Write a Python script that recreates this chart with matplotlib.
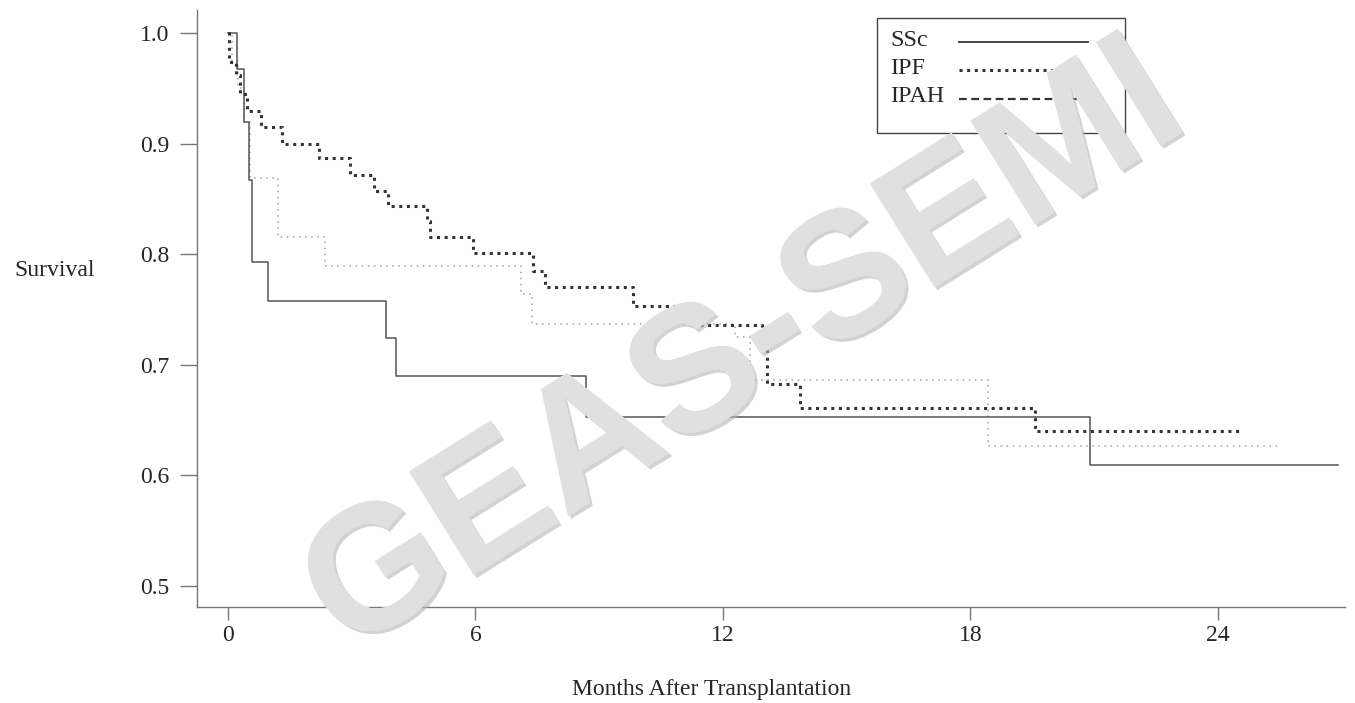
import matplotlib
matplotlib.use("Agg")
import matplotlib.pyplot as plt
from matplotlib.patches import Rectangle
import matplotlib.patheffects as pe

# ---- data (months, survival) ----
ssc_t = [0, 0.22, 0.39, 0.50, 0.58, 0.97, 3.83, 4.07, 8.68, 20.9, 26.9]
ssc_s = [1.0, 0.968, 0.920, 0.867, 0.793, 0.758, 0.724, 0.690, 0.653, 0.609, 0.609]

ipf_t = [0, 0.02, 0.20, 0.30, 0.45, 0.80, 1.31, 2.21, 2.96, 3.54, 3.88, 4.82, 4.90,
         5.94, 7.39, 7.68, 9.82, 11.2, 12.95, 13.07, 13.87, 19.56, 24.6]
ipf_s = [1.0, 0.974, 0.962, 0.945, 0.930, 0.915, 0.900, 0.887, 0.872, 0.857, 0.844,
         0.830, 0.816, 0.801, 0.785, 0.770, 0.753, 0.736, 0.718, 0.683, 0.661, 0.640, 0.640]

ipah_t = [0, 0.10, 0.25, 0.40, 0.53, 1.21, 2.35, 7.10, 7.37, 12.29, 12.65, 18.42, 25.43]
ipah_s = [1.0, 0.975, 0.950, 0.920, 0.869, 0.816, 0.789, 0.764, 0.737, 0.725, 0.686, 0.627, 0.627]

legend_labels = ["SSc", "IPF", "IPAH"]
xticks = [0, 6, 12, 18, 24]
yticks = [0.5, 0.6, 0.7, 0.8, 0.9, 1.0]

serif = ["Liberation Serif", "DejaVu Serif"]
TXT = "#262626"
AX = "#777777"

W, H = 1355, 703
AXL, AXR, AXT, AXB = 197, 1345, 10, 607

fig = plt.figure(figsize=(W / 100, H / 100), dpi=100)
ax = fig.add_axes([AXL / W, 1 - AXB / H, (AXR - AXL) / W, (AXB - AXT) / H])


def axc(px, py):
    """pixel position -> axes fraction (for layout of the legend box)."""
    return (px - AXL) / (AXR - AXL), (AXB - py) / (AXB - AXT)


styles = {
    "SSc": dict(color="#555555", lw=1.1, linestyle="-"),
    "IPF": dict(color="#333333", lw=2.2, linestyle=(0, (1, 1.5))),
    "IPAH": dict(color="#a0a0a0", lw=1.1, linestyle=(0, (1, 3))),
}

ax.step(ipah_t, ipah_s, where="post", **styles["IPAH"])
ax.step(ssc_t, ssc_s, where="post", **styles["SSc"])
ax.step(ipf_t, ipf_s, where="post", **styles["IPF"])

ax.set_xlim(-0.75, 27.08)
ax.set_ylim(0.481, 1.021)
ax.set_xticks(xticks)
ax.set_xticklabels([str(v) for v in xticks])
ax.set_yticks(yticks)
ax.set_yticklabels([f"{v:.1f}" for v in yticks])

for s in ["top", "right"]:
    ax.spines[s].set_visible(False)
for s in ["left", "bottom"]:
    ax.spines[s].set_color(AX)
    ax.spines[s].set_linewidth(1.0)

ax.tick_params(axis="y", length=12, width=1, color=AX, pad=8,
               labelsize=17, labelcolor=TXT)
ax.tick_params(axis="x", length=9, width=1, color=AX, pad=4,
               labelsize=17, labelcolor=TXT)
for lab in ax.get_xticklabels() + ax.get_yticklabels():
    lab.set_family(serif)

ax.set_ylabel("Survival", rotation=0, fontsize=17, family=serif, color=TXT,
              ha="center", va="center")
ax.yaxis.set_label_coords(*axc(55, 270))
ax.set_xlabel("Months After Transplantation", fontsize=17, family=serif, color=TXT,
              ha="center", va="center")
ax.xaxis.set_label_coords(*axc(712, 690))

# ---- legend (text left, line sample right, as in the reference) ----
x0, y0 = axc(877, 133)
x1, y1 = axc(1125, 18)
ax.add_patch(Rectangle((x0, y0), x1 - x0, y1 - y0, transform=ax.transAxes,
                       fill=True, facecolor="white", edgecolor="#444444",
                       lw=1.0, zorder=5))
leg_style = {
    "SSc": dict(color="#333333", lw=1.3, linestyle="-"),
    "IPF": dict(color="#333333", lw=2.2, linestyle=(0, (1, 1.5))),
    "IPAH": dict(color="#333333", lw=1.6, linestyle=(0, (3.5, 2))),
}
for lab, py in zip(legend_labels, [40, 68, 97]):
    tx, ty = axc(890, py)
    ax.text(tx, ty, lab, transform=ax.transAxes, ha="left", va="center",
            fontsize=17.5, family=serif, color=TXT, zorder=6)
    lx0, ly = axc(959, py + 2)
    lx1, _ = axc(1088, py + 2)
    ax.plot([lx0, lx1], [ly, ly], transform=ax.transAxes, zorder=6,
            **leg_style[lab])

# watermark overlay (as in the reference image)
fig.text(0.55, 0.5, "GEAS-SEMI", fontsize=128, fontweight="bold",
         family=["Liberation Sans", "DejaVu Sans"], color="#e0e0e0",
         rotation=32, ha="center", va="center", zorder=10,
         path_effects=[pe.withSimplePatchShadow(offset=(2, -2), shadow_rgbFace="#b5b5b5", alpha=0.6),
                       pe.Normal()])

fig.savefig("out.png", dpi=100)
